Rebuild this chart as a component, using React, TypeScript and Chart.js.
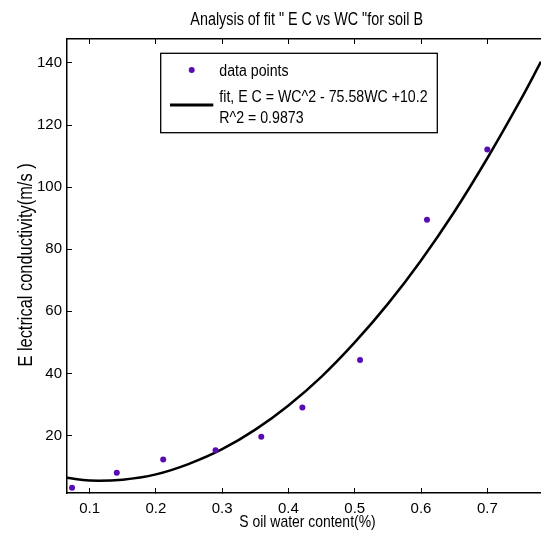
import React, { useEffect, useRef } from "react";
import { Chart, registerables } from "chart.js";

Chart.register(...registerables);

const FONT = "'Liberation Sans', Arial, sans-serif";
const NARROW = 0.82;

const titleText = 'Analysis of fit " E C vs WC "for soil B';
const xTitle = "S oil water content(%)";
const yTitle = "E lectrical conductivity(m/s )";
const legendLabels = ["data points", "fit, E C = WC^2 - 75.58WC +10.2", "R^2 = 0.9873"];

// measured data points
const waterContent = [0.0735, 0.141, 0.211, 0.29, 0.359, 0.421, 0.508, 0.609, 0.7];
const conductivity = [3.2, 8.0, 12.3, 15.3, 19.6, 29.0, 44.3, 89.5, 112.1];

// fitted curve
const fitWC = [0.066, 0.1, 0.15, 0.2, 0.25, 0.3, 0.35, 0.4, 0.45, 0.5, 0.55, 0.6, 0.65, 0.7, 0.75, 0.781];
const fitEC = [6.4, 5.5, 5.8, 7.5, 10.9, 15.6, 21.9, 29.7, 39.0, 50.0, 62.4, 76.4, 92.0, 109.3, 128.0, 140.4];

const xTicks = [0.1, 0.2, 0.3, 0.4, 0.5, 0.6, 0.7];
const yTicks = [20, 40, 60, 80, 100, 120, 140];

const X_MIN = 0.0659;
const X_MAX = 0.781;
const Y_MIN = 1.5;
const Y_MAX = 147.7;

const DOT_COLOR = "#5a0cb4";

function narrowText(ctx: CanvasRenderingContext2D, text: string, x: number, y: number, size: number) {
  ctx.save();
  ctx.translate(x, y);
  ctx.scale(NARROW, 1);
  ctx.font = `${size}px ${FONT}`;
  ctx.fillText(text, 0, 0);
  ctx.restore();
}

export default function App() {
  const ref = useRef<HTMLCanvasElement | null>(null);

  useEffect(() => {
    if (!ref.current) return;

    const annotations = {
      id: "annotations",
      afterDraw(chart: any) {
        const ctx = chart.ctx as CanvasRenderingContext2D;
        ctx.save();
        ctx.fillStyle = "#000";
        ctx.strokeStyle = "#000";
        ctx.textBaseline = "alphabetic";
        ctx.textAlign = "center";
        // title
        narrowText(ctx, titleText, 306.7, 25, 17.5);
        // x title
        narrowText(ctx, xTitle, 307.5, 526.7, 17);
        // y title
        ctx.save();
        ctx.translate(31.5, 265);
        ctx.rotate(-Math.PI / 2);
        narrowText(ctx, yTitle, 0, 0, 20);
        ctx.restore();
        // legend box
        ctx.fillStyle = "#fff";
        ctx.fillRect(160.7, 53.3, 276.6, 79.4);
        ctx.lineWidth = 1.3;
        ctx.strokeRect(160.7, 53.3, 276.6, 79.4);
        ctx.fillStyle = DOT_COLOR;
        ctx.beginPath();
        ctx.arc(191.7, 70, 3, 0, Math.PI * 2);
        ctx.fill();
        ctx.lineWidth = 3;
        ctx.beginPath();
        ctx.moveTo(170, 105);
        ctx.lineTo(213.3, 105);
        ctx.stroke();
        ctx.fillStyle = "#000";
        ctx.textAlign = "left";
        narrowText(ctx, legendLabels[0], 219.3, 76, 17.3);
        narrowText(ctx, legendLabels[1], 219.3, 101.7, 17.3);
        narrowText(ctx, legendLabels[2], 219.3, 123.3, 17.3);
        ctx.restore();
      },
    };

    const tickFont = { family: FONT, size: 15 };
    const setX = (s: any) => {
      s.ticks = xTicks.map((v) => ({ value: v }));
    };
    const setY = (s: any) => {
      s.ticks = yTicks.map((v) => ({ value: v }));
    };

    const chart = new Chart(ref.current, {
      type: "scatter",
      data: {
        datasets: [
          {
            label: "data points",
            data: waterContent.map((x, i) => ({ x, y: conductivity[i] })),
            backgroundColor: DOT_COLOR,
            borderColor: DOT_COLOR,
            pointRadius: 3,
            pointBorderWidth: 0,
            showLine: false,
            order: 0,
          },
          {
            label: "fit",
            data: fitWC.map((x, i) => ({ x, y: fitEC[i] })),
            borderColor: "#000",
            backgroundColor: "#000",
            borderWidth: 2.5,
            pointRadius: 0,
            showLine: true,
            tension: 0.4,
            order: 1,
          },
        ],
      },
      options: {
        responsive: false,
        animation: false,
        devicePixelRatio: 1,
        layout: { padding: 0, autoPadding: false },
        plugins: {
          legend: { display: false },
          title: { display: false },
          tooltip: { enabled: false },
        },
        scales: {
          x: {
            type: "linear",
            position: "bottom",
            min: X_MIN,
            max: X_MAX,
            afterBuildTicks: setX,
            afterFit: (s: any) => {
              s.height = 44;
            },
            ticks: {
              font: tickFont,
              color: "#000",
              padding: 12,
              maxRotation: 0,
              callback: (v: any) => Number(v).toFixed(1),
            },
            grid: { drawOnChartArea: false, tickLength: -5, color: "#000", lineWidth: 1 },
            border: { color: "#000", width: 1.5 },
          },
          x2: {
            type: "linear",
            position: "top",
            min: X_MIN,
            max: X_MAX,
            afterBuildTicks: setX,
            afterFit: (s: any) => {
              s.height = 39;
            },
            ticks: { display: false },
            grid: { drawOnChartArea: false, tickLength: -5, color: "#000", lineWidth: 1 },
            border: { color: "#000", width: 1.5 },
          },
          y: {
            type: "linear",
            position: "left",
            min: Y_MIN,
            max: Y_MAX,
            afterBuildTicks: setY,
            afterFit: (s: any) => {
              s.width = 67;
            },
            ticks: {
              font: tickFont,
              color: "#000",
              padding: 10,
              callback: (v: any) => String(v),
            },
            grid: { drawOnChartArea: false, tickLength: -5, color: "#000", lineWidth: 1 },
            border: { color: "#000", width: 1.5 },
          },
        },
      },
      plugins: [annotations],
    } as any);

    return () => chart.destroy();
  }, []);

  return (
    <div style={{ position: "fixed", left: 0, top: 0, width: 541, height: 537, background: "#fff" }}>
      <canvas ref={ref} width={541} height={537} style={{ display: "block" }} />
    </div>
  );
}
